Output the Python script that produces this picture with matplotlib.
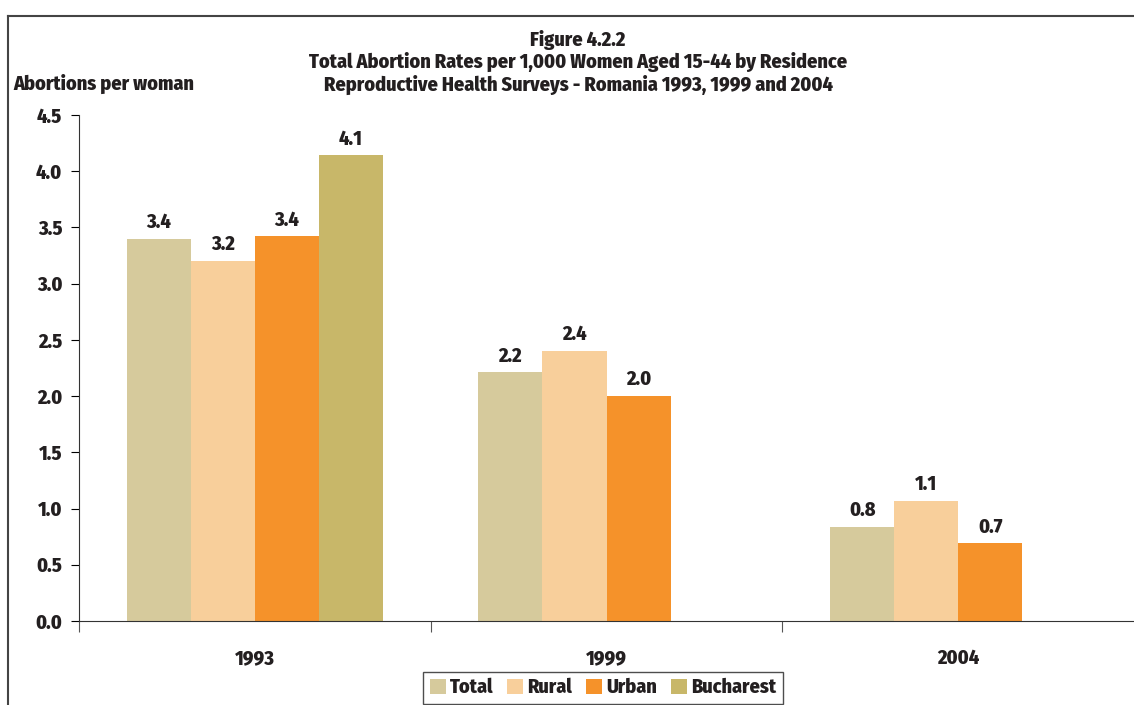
import numpy as np
import matplotlib
matplotlib.use('Agg')
import matplotlib.pyplot as plt
from matplotlib.lines import Line2D

years = ['1993', '1999', '2004']
series_names = ['Total', 'Rural', 'Urban', 'Bucharest']
total = [3.40, 2.21, 0.84]
rural = [3.20, 2.40, 1.07]
urban = [3.42, 2.00, 0.69]
bucharest = [4.14, np.nan, np.nan]
colors = ['#D6CA9C', '#F8CF9B', '#F5922A', '#C8B769']

plt.rcParams['font.family'] = ['Fira Sans Condensed', 'DejaVu Sans']
text_color = '#231F20'
fs = 14.5
fw = 800
plt.rcParams['font.weight'] = fw

fig = plt.figure(figsize=(11.34, 7.05), dpi=100)
ax = fig.add_axes([79 / 1134, 1 - 621 / 705, 1 - 79 / 1134, (621 - 115) / 705])

x = np.arange(len(years))
width = 0.182
all_series = [total, rural, urban, bucharest]
for i, vals in enumerate(all_series):
    pos = x + (i - 1.5) * width
    ax.bar(pos, vals, width, color=colors[i], label=series_names[i], zorder=2)
    for p, v in zip(pos, vals):
        if not np.isnan(v):
            ax.text(p, v + 0.06, '{:.1f}'.format(v), ha='center', va='bottom',
                    fontsize=fs, fontweight=fw, color=text_color)

ax.set_xlim(-0.5, 2.5)
ax.set_ylim(0, 4.5)
ax.set_yticks(np.arange(0, 4.51, 0.5))
ax.set_yticklabels(['{:.1f}'.format(t) for t in np.arange(0, 4.51, 0.5)])
ax.set_xticks([-0.5, 0.5, 1.5])
ax.set_xticklabels([])
ax.set_xticks(x, minor=True)
ax.set_xticklabels(years, minor=True)
ax.tick_params(axis='x', which='major', length=8, direction='out', color='#555555')
ax.tick_params(axis='x', which='minor', length=0, pad=20, labelsize=fs, labelcolor=text_color)
ax.tick_params(axis='y', length=6, direction='out', labelsize=fs, labelcolor=text_color, pad=6)
for s in ['top', 'right']:
    ax.spines[s].set_visible(False)
ax.spines['left'].set_color('#333333')
ax.spines['bottom'].set_color('#333333')

fig.text(13 / 1134, 1 - 84 / 705, 'Abortions per woman', ha='left', va='center',
         fontsize=fs, fontweight=fw, color=text_color)
fig.text(578 / 1134, 1 - 40 / 705, 'Figure 4.2.2', ha='center', va='center',
         fontsize=fs, fontweight=fw, color=text_color)
fig.text(578 / 1134, 1 - 62 / 705, 'Total Abortion Rates per 1,000 Women Aged 15-44 by Residence',
         ha='center', va='center', fontsize=fs, fontweight=fw, color=text_color)
fig.text(578 / 1134, 1 - 85 / 705, 'Reproductive Health Surveys - Romania 1993, 1999 and 2004',
         ha='center', va='center', fontsize=fs, fontweight=fw, color=text_color)

# frame around the figure (only left and top visible)
fig.add_artist(Line2D([8 / 1134, 8 / 1134], [-0.1, 1 - 16 / 705], color='#444444', lw=1.5))
fig.add_artist(Line2D([8 / 1134, 1.1], [1 - 16 / 705, 1 - 16 / 705], color='#444444', lw=1.5))

leg = fig.legend(loc='upper center', bbox_to_anchor=(603 / 1134, 1 - 672 / 705), ncol=4,
                 frameon=True, fancybox=False, edgecolor='#222222', fontsize=fs,
                 handlelength=0.8, handleheight=0.8, handletextpad=0.2, columnspacing=0.7,
                 borderpad=0.3, borderaxespad=0)
leg.get_frame().set_linewidth(1.0)
for t in leg.get_texts():
    t.set_color(text_color)

fig.savefig('out.png', dpi=100)
